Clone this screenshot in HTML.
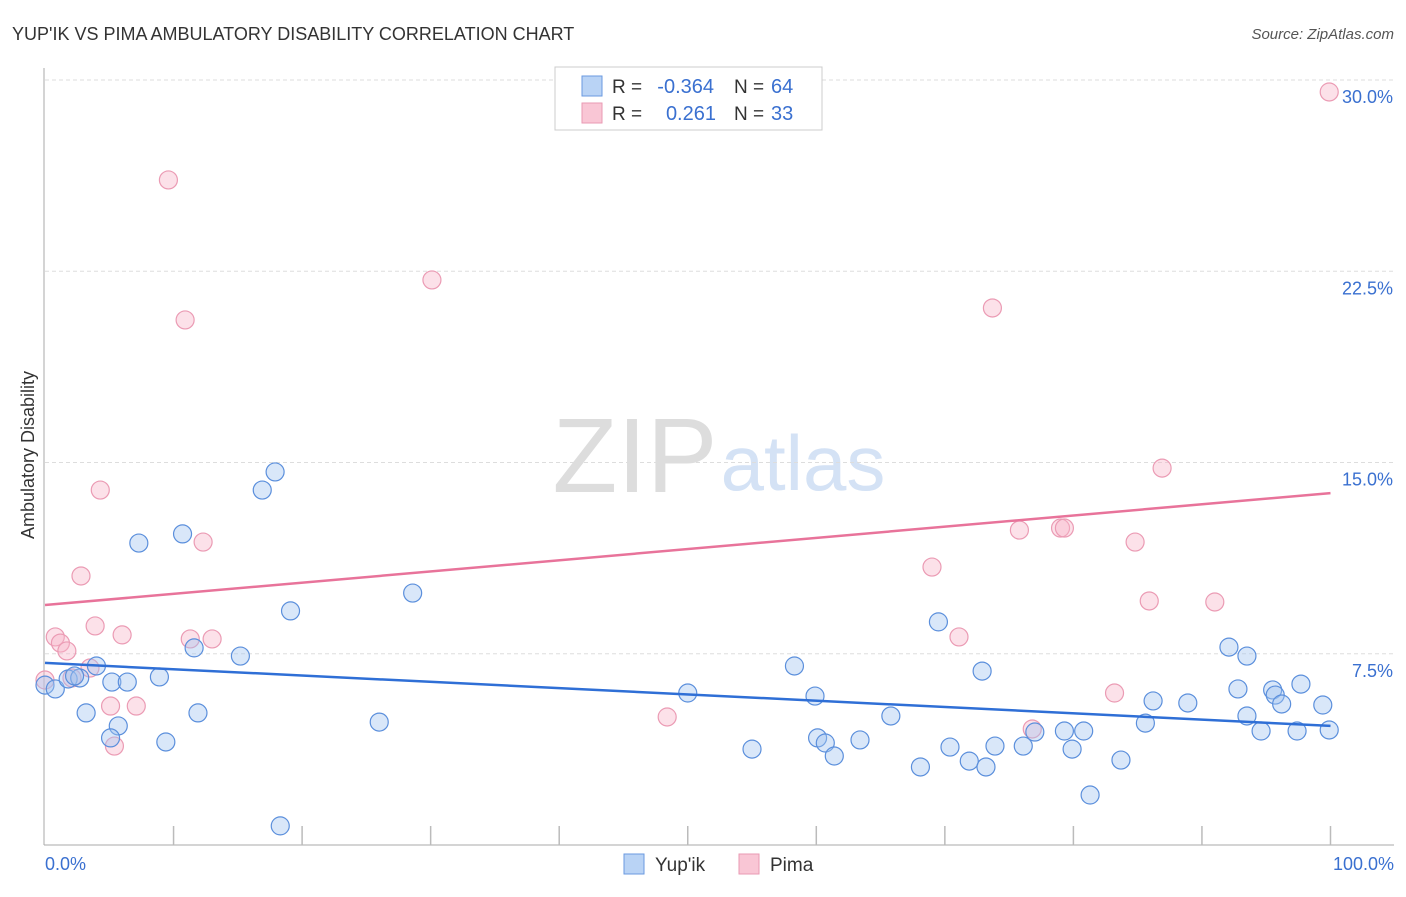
<!DOCTYPE html>
<html><head><meta charset="utf-8"><style>
body{margin:0;background:#fff;font-family:"Liberation Sans",sans-serif;}
svg text{font-family:"Liberation Sans",sans-serif;}
</style></head><body>
<svg width="1406" height="892" id="chart">
<text x="12" y="40" font-size="18" fill="#333">YUP'IK VS PIMA AMBULATORY DISABILITY CORRELATION CHART</text>
<text x="1394" y="39" font-size="15" fill="#555" font-style="italic" text-anchor="end">Source: ZipAtlas.com</text>
<text x="635" y="492" font-size="106" fill="#ddd" font-family="Liberation Serif,serif" text-anchor="middle">ZIP</text>
<text x="803" y="490" font-size="78" fill="#d4e2f5" text-anchor="middle">atlas</text>
<g id="grid"></g>
<line x1="44" y1="68" x2="44" y2="845" stroke="#aaa"/>
<line x1="44" y1="845" x2="1394" y2="845" stroke="#aaa"/>
<g id="xticks"></g>
<text x="34" y="455" font-size="18" fill="#333" text-anchor="middle" transform="rotate(-90 34 455)">Ambulatory Disability</text>
<text x="45" y="870" font-size="18" fill="#3a70d0">0.0%</text>
<text x="1394" y="870" font-size="18" fill="#3a70d0" text-anchor="end">100.0%</text>
<g id="points"></g>
<g id="trends"></g>
<g>
<rect x="555" y="67" width="267" height="63" fill="#fff" stroke="#ccc"/>
<rect x="582" y="76" width="20" height="20" fill="#b9d3f5" stroke="#6a9ae0"/>
<rect x="582" y="103" width="20" height="20" fill="#f9c6d5" stroke="#e99ab3"/>
<text x="612" y="93" font-size="19" fill="#333">R =</text>
<text x="714" y="93" font-size="20" fill="#3a70d0" text-anchor="end">-0.364</text>
<text x="734" y="93" font-size="19" fill="#333">N =</text>
<text x="771" y="93" font-size="20" fill="#3a70d0">64</text>
<text x="612" y="120" font-size="19" fill="#333">R =</text>
<text x="716" y="120" font-size="20" fill="#3a70d0" text-anchor="end">0.261</text>
<text x="734" y="120" font-size="19" fill="#333">N =</text>
<text x="771" y="120" font-size="20" fill="#3a70d0">33</text>
</g>
<g><rect x="624" y="854" width="20" height="20" fill="#b9d3f5" stroke="#6a9ae0"/><text x="655" y="871" font-size="19" fill="#333">Yup'ik</text></g>
<g><rect x="739" y="854" width="20" height="20" fill="#f9c6d5" stroke="#e99ab3"/><text x="770" y="871" font-size="19" fill="#333">Pima</text></g>
</svg>
<script>
const yTicks=[30,22.5,15,7.5];
const yTickLabels=["30.0%","22.5%","15.0%","7.5%"];
const xTicks=[10,20,30,40,50,60,70,80,90,100];
const yupikX=[0,0.8,1.8,2.7,2.3,4.0,5.2,6.4,3.2,5.7,5.1,7.3,8.9,9.4,10.7,11.6,11.9,15.2,16.9,17.9,19.1,18.3,26.0,28.6,50.0,55.0,58.3,59.9,60.1,60.7,61.4,63.4,65.8,68.1,69.5,70.4,71.9,72.9,73.2,73.9,76.1,77.0,79.3,79.9,80.8,81.3,83.7,85.6,86.2,88.9,92.1,92.8,93.5,93.5,94.6,95.5,95.7,96.2,97.4,97.7,99.4,99.9];
const yupikY=[6.27,6.12,6.51,6.55,6.63,7.02,6.39,6.39,5.18,4.67,4.20,11.84,6.59,4.04,12.2,7.73,5.18,7.41,13.92,14.63,9.18,0.75,4.82,9.88,5.96,3.76,7.02,5.84,4.20,4.0,3.49,4.12,5.06,3.06,8.75,3.84,3.29,6.82,3.06,3.88,3.88,4.43,4.47,3.76,4.47,1.96,3.33,4.78,5.65,5.57,7.76,6.12,5.06,7.41,4.47,6.08,5.88,5.53,4.47,6.31,5.49,4.51];
const pimaX=[0.8,1.2,1.7,2.8,3.9,4.3,5.1,5.4,6.0,7.1,9.6,10.9,11.3,12.3,13.0,30.1,48.4,69.0,71.1,73.7,75.8,76.8,79.0,79.3,83.2,84.8,85.9,86.9,91.0,99.9,2.1,0,3.5];
const pimaY=[8.16,7.92,7.61,10.55,8.59,13.92,5.45,3.88,8.24,5.45,26.08,20.59,8.08,11.88,8.08,22.16,5.02,10.9,8.16,21.06,12.35,4.55,12.43,12.43,5.96,11.88,9.57,14.78,9.53,29.53,6.55,6.47,6.94];
const yupikTrend=[7.14,4.67];
const pimaTrend=[9.41,13.8];
const NS="http://www.w3.org/2000/svg";
const xs=v=>45+v*12.855;
const ys=v=>80+(30-v)*25.5;
function mk(tag,attrs,parent){const e=document.createElementNS(NS,tag);for(const k in attrs)e.setAttribute(k,attrs[k]);document.getElementById(parent).appendChild(e);return e;}
yTicks.forEach((t,i)=>{
 const l=mk('line',{x1:45,x2:1394,y1:ys(t),y2:ys(t),stroke:'#ddd','stroke-dasharray':'4 3'},'grid');
 
 
 const tx=mk('text',{x:1393,y:ys(t)+23,'font-size':18,fill:'#3a70d0','text-anchor':'end'},'grid');
 tx.textContent=yTickLabels[i];
 
 
});
xTicks.forEach(t=>{
 const l=mk('line',{x1:xs(t),x2:xs(t),y1:826,y2:845,stroke:'#bbb','stroke-width':1.5},'xticks');
 
 
});
function pts(X,Y,fill,stroke,name){X.forEach((x,i)=>{
 const c=mk('circle',{cx:xs(x),cy:ys(Y[i]),r:9,fill:fill,stroke:stroke,'stroke-width':1.2},'points');
 
 
});}
pts(pimaX,pimaY,'rgba(248,180,200,0.4)','#eb9bb4','pima-point');
pts(yupikX,yupikY,'rgba(160,196,240,0.4)','#5b8fdc','yupik-point');
const t1=mk('line',{x1:xs(0),y1:ys(pimaTrend[0]),x2:xs(100),y2:ys(pimaTrend[1]),stroke:'#e8739a','stroke-width':2.5},'trends');


const t2=mk('line',{x1:xs(0),y1:ys(yupikTrend[0]),x2:xs(100),y2:ys(yupikTrend[1]),stroke:'#2f6fd6','stroke-width':2.5},'trends');


</script>
</body></html>
